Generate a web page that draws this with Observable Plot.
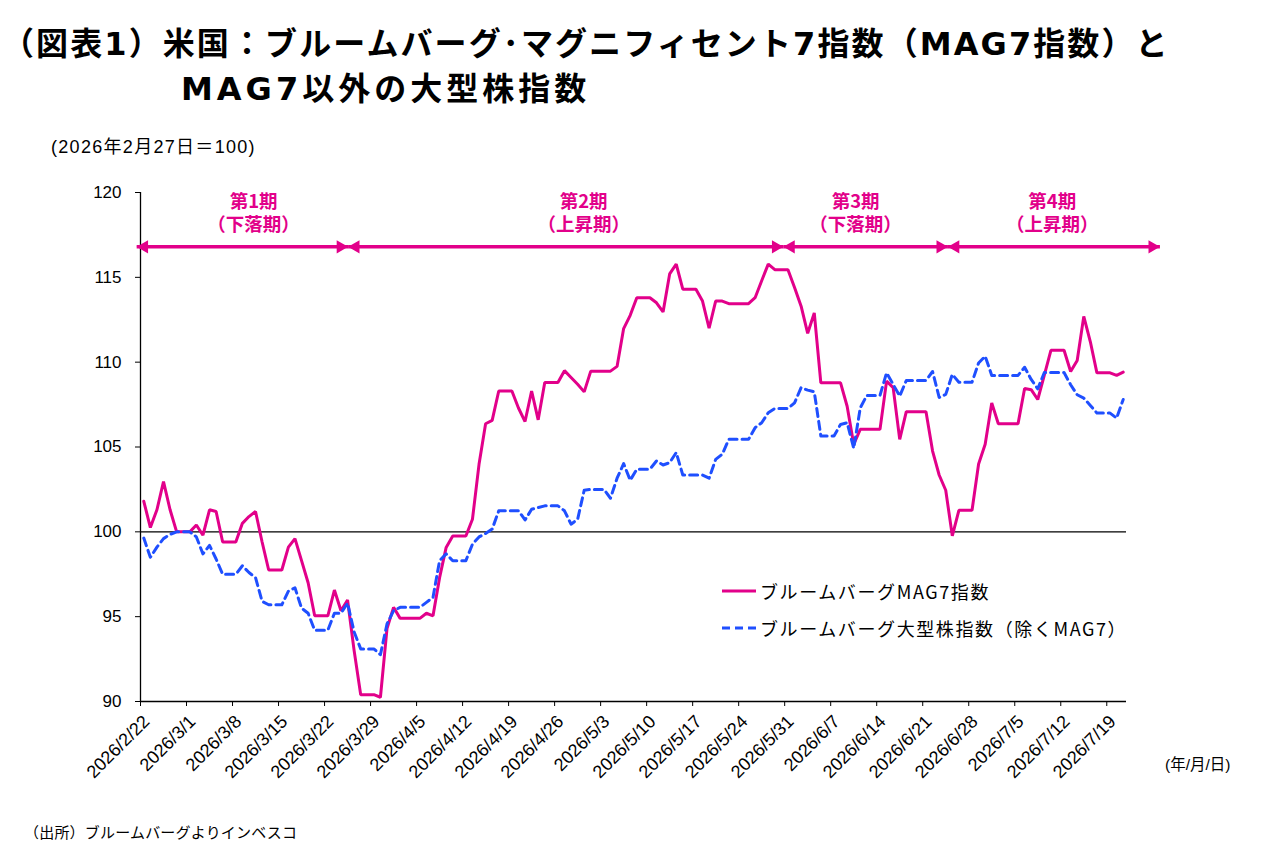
<!DOCTYPE html>
<html><head><meta charset="utf-8">
<script src="https://cdn.jsdelivr.net/npm/d3@7"></script>
<script src="https://cdn.jsdelivr.net/npm/@observablehq/plot@0.6"></script>
<style>
html,body{margin:0;padding:0;background:#fff;}
#wrap{position:relative;width:1280px;height:860px;overflow:hidden;font-family:"Noto Sans CJK JP","Noto Sans",sans-serif;color:#000;}
.t{position:absolute;white-space:nowrap;}
#title1,#title2{font-weight:700;font-size:32px;line-height:32px;font-family:"DejaVu Sans","Noto Sans CJK JP",sans-serif;}
#title1{left:2px;top:28px;letter-spacing:2.1px;}
#title2{left:181px;top:73px;letter-spacing:4px;}
#sub{left:51px;top:136px;font-size:18px;line-height:22px;letter-spacing:1.3px;font-family:"Liberation Sans","Noto Sans CJK JP",sans-serif;}
#cap{left:24px;top:821px;font-size:15px;line-height:22px;letter-spacing:0.2px;}
#unit{left:1165px;top:754px;font-size:15.5px;line-height:22px;font-family:"Liberation Sans","Noto Sans CJK JP",sans-serif;}
#chart{position:absolute;left:0;top:120px;}
#legend{position:absolute;left:722px;top:572px;font-size:18px;letter-spacing:1.6px;}
.li{display:flex;align-items:center;height:37px;}
.li svg{margin-right:4px;}
</style></head>
<body><div id="wrap">
<div id="title1" class="t">（図表1）米国：ブルームバーグ･マグニフィセント7指数（MAG7指数）と</div>
<div id="title2" class="t">MAG7以外の大型株指数</div>
<div id="sub" class="t">(2026年2月27日＝100)</div>
<div id="chart"></div>
<div id="legend"></div>
<div id="unit" class="t">(年/月/日)</div>
<div id="cap" class="t">（出所）ブルームバーグよりインベスコ</div>
</div>
<script>
// ---- data (daily, starting 2026/2/22) ----
const startDate = "2026-02-22";
const seriesNames = ["ブルームバーグMAG7指数", "ブルームバーグ大型株指数（除くMAG7）"];
const mag7 = [
101.8,100.25,101.3,102.96,101.3,100,100,100,100.4,99.8,
101.3,101.2,99.4,99.4,99.4,100.5,100.9,101.2,99.4,97.75,
97.75,97.75,99.1,99.6,98.3,97.0,95.05,95.05,95.05,96.57,
95.35,95.98,93.0,90.4,90.4,90.4,90.25,94.3,95.55,94.9,
94.9,94.9,94.9,95.2,95.05,97.3,99.08,99.75,99.75,99.75,
100.74,103.98,106.37,106.57,108.3,108.3,108.3,107.3,106.5,108.3,
106.6,108.8,108.8,108.8,109.5,109.1,108.7,108.25,109.47,109.47,
109.47,109.47,109.75,111.98,112.76,113.8,113.8,113.8,113.5,112.96,
115.2,115.78,114.3,114.3,114.3,113.6,112.0,113.6,113.6,113.45,
113.45,113.45,113.45,113.8,114.8,115.78,115.45,115.45,115.45,114.4,
113.3,111.7,112.9,108.78,108.78,108.78,108.78,107.4,105.16,106.04,
106.04,106.04,106.04,108.88,108.5,105.45,107.08,107.08,107.08,107.08,
104.76,103.35,102.45,99.76,101.27,101.27,101.27,104.0,105.16,107.6,
106.37,106.37,106.37,106.37,108.45,108.38,107.8,109.24,110.7,110.7,
110.7,109.45,110.1,112.7,111.2,109.37,109.37,109.37,109.22,109.41
];
const exMag7 = [
99.63,98.5,99.1,99.6,99.85,100,100,100,99.7,98.7,
99.2,98.4,97.5,97.5,97.5,98.0,97.6,97.3,95.9,95.7,
95.7,95.7,96.5,96.7,95.5,95.2,94.2,94.2,94.2,95.2,
95.2,95.8,94.1,93.1,93.1,93.1,92.76,94.57,95.35,95.55,
95.55,95.55,95.55,95.84,96.14,98.3,98.7,98.3,98.3,98.3,
99.27,99.7,99.9,100.16,101.24,101.24,101.24,101.24,100.7,101.33,
101.43,101.53,101.53,101.53,101.24,100.45,100.74,102.45,102.5,102.5,
102.5,101.98,103.16,104.02,103.04,103.69,103.69,103.69,104.18,103.94,
104.08,104.67,103.35,103.35,103.35,103.35,103.16,104.27,104.57,105.45,
105.45,105.45,105.45,106.14,106.43,107.02,107.27,107.27,107.27,107.6,
108.5,108.35,108.25,105.65,105.65,105.65,106.33,106.43,104.92,107.31,
108.04,108.04,108.04,109.37,108.69,108.0,108.92,108.92,108.92,108.92,
109.45,107.92,108.1,109.28,108.82,108.82,108.82,109.95,110.35,109.22,
109.22,109.22,109.22,109.22,109.7,108.98,108.43,109.39,109.39,109.39,
109.39,108.67,108.08,107.88,107.45,107.0,107.0,107.0,106.7,107.8
];
const tickLabels = ["2026/2/22","2026/3/1","2026/3/8","2026/3/15","2026/3/22","2026/3/29","2026/4/5","2026/4/12","2026/4/19","2026/4/26","2026/5/3","2026/5/10","2026/5/17","2026/5/24","2026/5/31","2026/6/7","2026/6/14","2026/6/21","2026/6/28","2026/7/5","2026/7/12","2026/7/19"];
const yTicks = [90, 95, 100, 105, 110, 115, 120];
const xDomain = ["2026-02-22", "2026-07-22"];
const baseValue = 100;
const periodNames = ["第1期", "第2期", "第3期", "第4期"];
const periodKinds = ["（下落期）", "（上昇期）", "（下落期）", "（上昇期）"];
const periodStarts = ["2026-02-21T10:00Z", "2026-03-25T14:00Z", "2026-05-30T19:00Z", "2026-06-24T20:00Z"];
const periodEnds = ["2026-03-25T14:00Z", "2026-05-30T19:00Z", "2026-06-24T20:00Z", "2026-07-27T02:00Z"];
const periodLabelDates = ["2026-03-11T05:00Z", "2026-04-30T10:00Z", "2026-06-10T19:00Z", "2026-07-10T17:00Z"];

// ---- build tables ----
const DAY = 864e5;
const t0 = Date.parse(startDate + "T12:00:00Z");
const rows = (vals, name) => vals.map((v, i) => ({date: new Date(t0 + i * DAY), value: v, series: name}));
const magRows = rows(mag7, seriesNames[0]);
const exRows = rows(exMag7, seriesNames[1]);
const parseTick = s => { const [y, m, d] = s.split("/").map(Number); return new Date(Date.UTC(y, m - 1, d)); };
const tickDates = tickLabels.map(parseTick);
const periods = periodNames.map((n, i) => ({label: n + "\n" + periodKinds[i], x1: new Date(periodStarts[i]), x2: new Date(periodEnds[i]), lx: new Date(periodLabelDates[i])}));

const MAG = "#E2008A", BLUE = "#1F4FFF";
const jp = "Noto Sans CJK JP, sans-serif";

const chart = Plot.plot({
  width: 1280, height: 680,
  marginLeft: 140, marginRight: 154, marginTop: 72, marginBottom: 99,
  style: {fontFamily: "Liberation Sans, Arial, sans-serif", fontSize: "17px", color: "#000", background: "transparent", overflow: "visible"},
  x: {type: "utc", domain: xDomain.map(s => new Date(s + "T00:00:00Z"))},
  y: {domain: [90, 120]},
  marks: [
    Plot.ruleY([baseValue], {stroke: "#000", strokeWidth: 1.3}),
    Plot.ruleY([90], {stroke: "#000", strokeWidth: 1.3}),
    Plot.ruleX([new Date(xDomain[0] + "T00:00:00Z")], {stroke: "#000", strokeWidth: 1.3}),
    Plot.axisY({ticks: yTicks, tickSize: 5, tickPadding: 14, label: null, stroke: "#000", fontSize: 17}),
    Plot.axisX({ticks: tickDates, tickFormat: d3.utcFormat("%Y/%-m/%-d"), tickRotate: -45, tickSize: 0, tickPadding: 9, label: null, fontSize: 18, dx: 6, dy: 8}),
    Plot.ruleX(tickDates, {y1: 90, y2: 90, stroke: "#000", strokeWidth: 1, insetBottom: -5}),
    Plot.line(magRows, {x: "date", y: "value", stroke: MAG, strokeWidth: 3, strokeLinejoin: "miter"}),
    Plot.line(exRows, {x: "date", y: "value", stroke: BLUE, strokeWidth: 3, strokeDasharray: "8,5"}),
    Plot.link(periods, {x1: "x1", x2: "x2", y1: 116.8, y2: 116.8, stroke: MAG, strokeWidth: 3.5, clip: false}),
    Plot.dot(periods, {x: "x1", y: 116.8, symbol: "triangle", r: 4.9, rotate: -90, fill: MAG, stroke: "none", dx: 7.6, clip: false}),
    Plot.dot(periods, {x: "x2", y: 116.8, symbol: "triangle", r: 4.9, rotate: 90, fill: MAG, stroke: "none", dx: -7.6, clip: false}),
    Plot.text(periods, {x: "lx", y: 118.85, text: "label", fill: MAG, fontWeight: "bold", fontSize: 18.5, fontFamily: jp, lineAnchor: "middle", lineHeight: 1.27})
  ]
});
document.getElementById("chart").appendChild(chart);

// legend (HTML)
const legend = document.getElementById("legend");
const styles = [{stroke: MAG, dash: null}, {stroke: BLUE, dash: "8,5"}];
seriesNames.forEach((n, i) => {
  const d = document.createElement("div");
  d.className = "li";
  d.innerHTML = `<svg width="34" height="8"><line x1="0" x2="34" y1="4" y2="4" stroke="${styles[i].stroke}" stroke-width="3" ${styles[i].dash ? `stroke-dasharray="${styles[i].dash}"` : ""}/></svg><span>${n}</span>`;
  legend.appendChild(d);
});
</script>
</body></html>
